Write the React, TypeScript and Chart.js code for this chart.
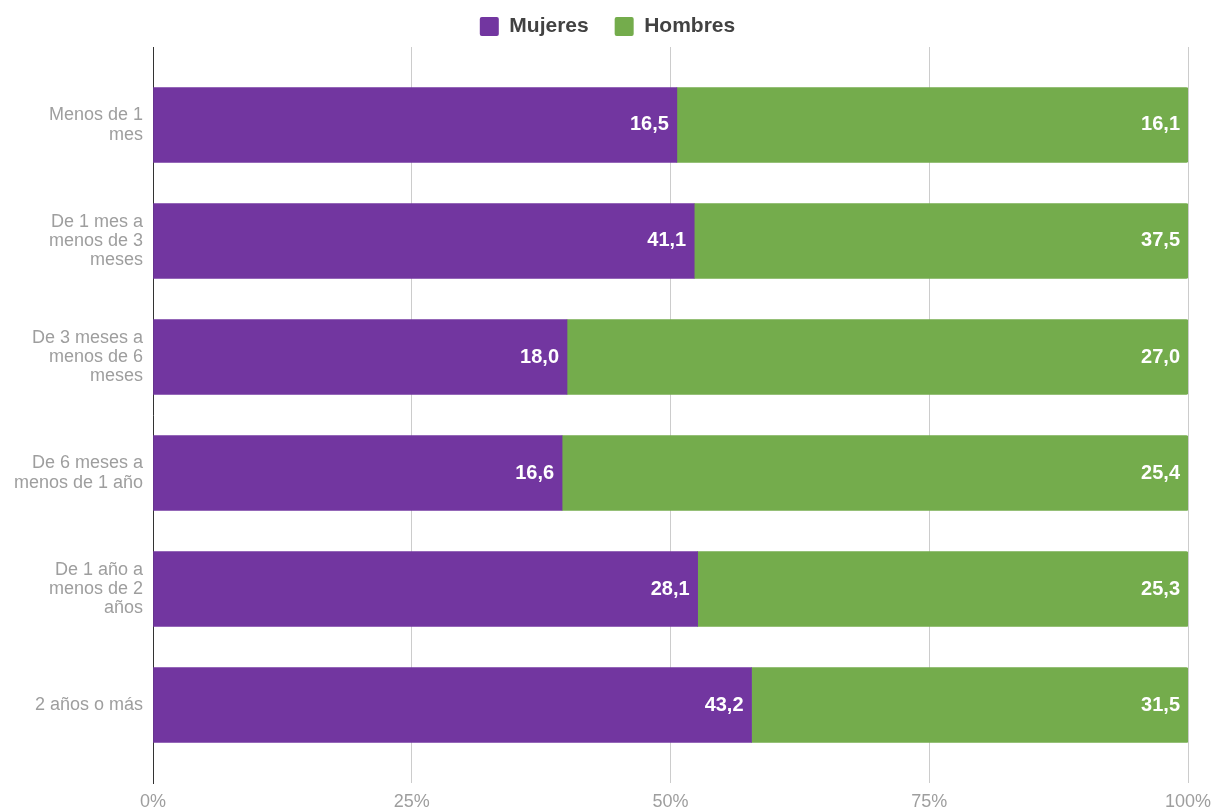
import React, { useEffect, useRef } from "react";
import { Chart, registerables } from "chart.js";

Chart.register(...registerables);

const categories: string[][] = [
  ["Menos de 1", "mes"],
  ["De 1 mes a", "menos de 3", "meses"],
  ["De 3 meses a", "menos de 6", "meses"],
  ["De 6 meses a", "menos de 1 año"],
  ["De 1 año a", "menos de 2", "años"],
  ["2 años o más"],
];
const mujeres = [16.5, 41.1, 18.0, 16.6, 28.1, 43.2];
const hombres = [16.1, 37.5, 27.0, 25.4, 25.3, 31.5];
const xTicks = [0, 25, 50, 75, 100];

const PURPLE = "#7236A0";
const GREEN = "#74AC4C";
const FONT = "'Liberation Sans', Arial, sans-serif";

const valueLabels = {
  id: "valueLabels",
  afterDatasetsDraw(chart: any) {
    const ctx = chart.ctx;
    ctx.save();
    ctx.font = `bold 20px ${FONT}`;
    ctx.fillStyle = "#ffffff";
    ctx.textAlign = "right";
    ctx.textBaseline = "middle";
    chart.data.datasets.forEach((ds: any, di: number) => {
      const meta = chart.getDatasetMeta(di);
      meta.data.forEach((el: any, i: number) => {
        const raw = ds.rawValues[i] as number;
        ctx.fillText(raw.toFixed(1).replace(".", ","), el.x - 8, el.y);
      });
    });
    ctx.restore();
  },
};

export default function App() {
  const ref = useRef<HTMLCanvasElement>(null);
  useEffect(() => {
    document.body.style.margin = "0";
    const pm = mujeres.map((m, i) => (m / (m + hombres[i])) * 100);
    const ph = hombres.map((h, i) => (h / (mujeres[i] + h)) * 100);
    const chart = new Chart(ref.current!, {
      type: "bar",
      data: {
        datasets: [
          {
            label: "Mujeres",
            data: pm.map((v, i) => ({ x: v, y: i })),
            rawValues: mujeres,
            backgroundColor: PURPLE,
            borderWidth: 0,
            barThickness: 75,
          } as any,
          {
            label: "Hombres",
            data: ph.map((v, i) => ({ x: v, y: i })),
            rawValues: hombres,
            backgroundColor: GREEN,
            borderWidth: 0,
            barThickness: 75,
            borderRadius: { topRight: 2, bottomRight: 2, topLeft: 0, bottomLeft: 0 },
            borderSkipped: false,
          } as any,
        ],
      },
      options: {
        indexAxis: "y",
        animation: false,
        responsive: false,
        maintainAspectRatio: false,
        layout: { padding: { top: -11, right: 0, left: 0, bottom: 0 } },
        plugins: {
          tooltip: { enabled: false },
          legend: {
            position: "top",
            labels: {
              boxWidth: 19,
              boxHeight: 19,
              useBorderRadius: true,
              borderRadius: 2,
              padding: 26,
              color: "#424242",
              font: { family: FONT, size: 21, weight: "bold" },
            },
          },
        },
        scales: {
          x: {
            type: "linear",
            stacked: true,
            offset: false,
            min: 0,
            max: 100,
            afterBuildTicks: (s: any) => {
              s.ticks = xTicks.map((v) => ({ value: v }));
            },
            afterFit: (s: any) => {
              s.height = 26;
              s.paddingLeft = 0;
              s.paddingRight = 27;
            },
            grid: { color: "#cccccc", drawTicks: false, lineWidth: 1, offset: false },
            border: { display: false },
            ticks: {
              color: "#9e9e9e",
              padding: 8,
              font: { family: FONT, size: 18 },
              callback: (v: any) => `${v}%`,
            },
          },
          y: {
            type: "linear",
            stacked: true,
            reverse: true,
            offset: false,
            min: -0.672,
            max: 5.672,
            afterBuildTicks: (s: any) => {
              s.ticks = categories.map((_, i) => ({ value: i }));
            },
            afterFit: (s: any) => {
              s.width = 153;
              s.paddingTop = 47;
              s.paddingBottom = 26;
            },
            grid: { display: false, drawTicks: false, offset: false },
            border: { display: true, color: "#333333", width: 1 },
            ticks: {
              color: "#9e9e9e",
              padding: 10,
              font: { family: FONT, size: 18, lineHeight: 1.07 },
              callback: (v: any) => categories[v as number] ?? "",
            },
          },
        },
      } as any,
      plugins: [valueLabels],
    });
    return () => chart.destroy();
  }, []);
  return (
    <div style={{ position: "fixed", left: 0, top: 0, width: 1215, height: 809, background: "#fff" }}>
      <canvas ref={ref} width={1215} height={809} style={{ width: 1215, height: 809 }} />
    </div>
  );
}
